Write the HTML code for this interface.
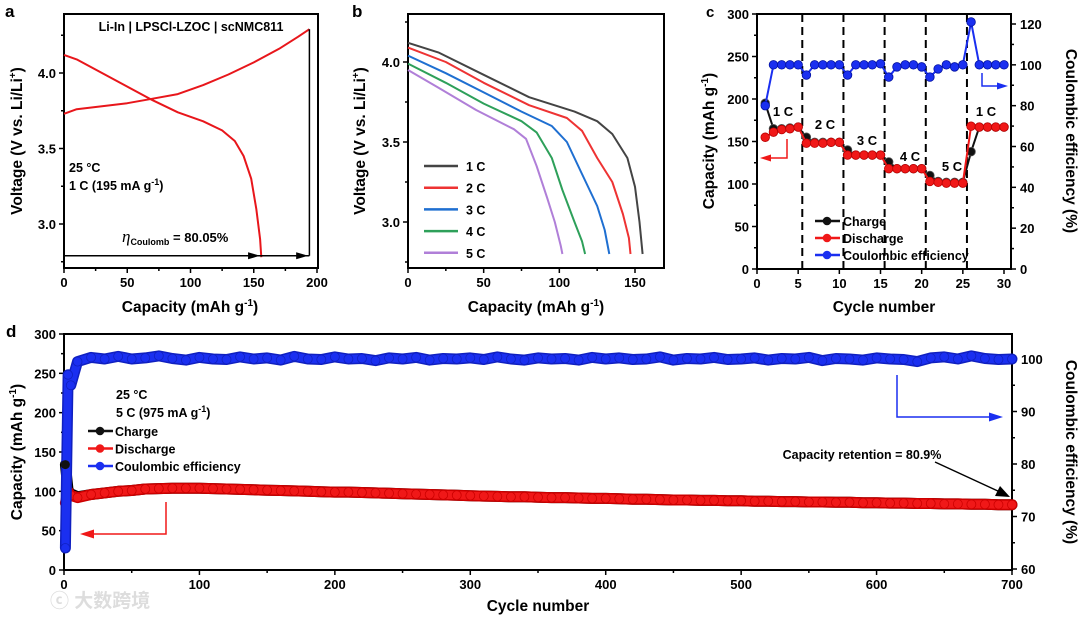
<!DOCTYPE html>
<html><head><meta charset="utf-8"><style>
html,body{margin:0;padding:0;background:#fff}
svg{display:block;font-family:"Liberation Sans",Arial,sans-serif;font-weight:bold}
</style></head><body>
<svg id="fig" width="1080" height="619" viewBox="0 0 1080 619">
<text x="50" y="607" font-size="19" fill="#ddd" font-family="'Liberation Sans','Noto Sans CJK SC',sans-serif">ⓒ 大数跨境</text>
</svg>
<script>
// ---------- panel a data ----------
const aChargeCap=[0,10,30,50,70,90,110,130,150,170,185,194];
const aChargeV=[3.73,3.76,3.78,3.80,3.83,3.86,3.92,3.99,4.07,4.16,4.24,4.29];
const aDisCap=[0,10,30,50,70,90,110,125,135,142,148,152,155,156];
const aDisV=[4.12,4.09,4.0,3.91,3.82,3.74,3.68,3.62,3.55,3.45,3.3,3.1,2.9,2.78];
// ---------- panel b data ----------
const bRates=["1 C","2 C","3 C","4 C","5 C"];
const bColors=["#444","#e33","#1f6fd1","#2ea05a","#b07fd8"];
const bCap1=[0,20,50,80,110,125,135,145,150,153,155];
const bV1=[4.12,4.06,3.92,3.78,3.69,3.63,3.55,3.40,3.22,3.0,2.8];
const bCap2=[0,25,50,80,105,115,125,135,142,146,147];
const bV2=[4.09,4.0,3.87,3.73,3.65,3.57,3.4,3.25,3.05,2.9,2.8];
const bCap3=[0,25,50,75,95,105,115,125,130,133];
const bV3=[4.04,3.93,3.81,3.69,3.60,3.50,3.3,3.1,2.95,2.8];
const bCap4=[0,25,50,75,85,95,102,110,115,117];
const bV4=[3.99,3.87,3.74,3.63,3.56,3.40,3.2,3.0,2.88,2.8];
const bCap5=[0,20,45,70,78,85,92,97,101,102];
const bV5=[3.95,3.84,3.70,3.58,3.52,3.35,3.15,3.0,2.85,2.8];
// ---------- panel c data ----------
const cCycles=[1,2,3,4,5,6,7,8,9,10,11,12,13,14,15,16,17,18,19,20,21,22,23,24,25,26,27,28,29,30];
const cCharge=[195,165,165,166,167,155,149,149,149,149,140,134,134,134,134,126,118,118,118,118,110,103,102,102,102,138,167,167,167,167];
const cDischarge=[155,161,164,165,167,148,148,148,149,149,134,134,134,134,134,118,118,118,118,118,103,102,101,101,101,168,167,167,167,167];
const cCE=[80,100,100,100,100,95,100,100,100,100,95,100,100,100,100.5,94,99,100,100,99,94,98,100,99,100,121,100,100,100,100];
const cRateLabels=["1 C","2 C","3 C","4 C","5 C","1 C"];
// ---------- panel d data (every 10 cycles) ----------
const dCycles=[1,3,5,10,20,30,40,50,60,70,80,90,100,110,120,130,140,150,160,170,180,190,200,210,220,230,240,250,260,270,280,290,300,310,320,330,340,350,360,370,380,390,400,410,420,430,440,450,460,470,480,490,500,510,520,530,540,550,560,570,580,590,600,610,620,630,640,650,660,670,680,690,700];
const dDischarge=[85,100,95,92,96,98,100,101,103,103.5,104,104,104,103.5,103,102.5,102,101.5,101,100.5,100,99.5,99,99,98.5,98,97.5,97,96.5,96,95.5,95,94.5,94,93.5,93,93,92.5,92,92,91.5,91,91,90.5,90,90,89.5,89,89,88.5,88.5,88,88,87.5,87.5,87,87,86.5,86.5,86,86,85.5,85.5,85,85,84.5,84.5,84,84,83.5,83.5,83,83];
const dCharge=[134,101,97,93,96,98,100,101,103,103.5,104,104,104,103.5,103,102.5,102,101.5,101,100.5,100,99.5,99,99,98.5,98,97.5,97,96.5,96,95.5,95,94.5,94,93.5,93,93,92.5,92,92,91.5,91,91,90.5,90,90,89.5,89,89,88.5,88.5,88,88,87.5,87.5,87,87,86.5,86.5,86,86,85.5,85.5,85,85,84.5,84.5,84,84,83.5,83.5,83,83];
const dCE=[64,97,95,99.5,100.3,100,100.5,100,100.2,100.6,100.1,99.8,100.3,100,99.9,100.4,100,100.2,99.8,100.5,100,99.9,100.4,100,100.1,99.7,100.2,100,100.3,99.8,100.1,100,100.2,99.9,100.4,100,99.8,100.2,100,100.1,99.8,100.3,100,100.2,99.9,100,100.4,99.8,100.1,100,100.3,99.9,100,100.2,99.8,100.1,100,100.3,99.7,100.1,100,99.8,100.2,100,99.9,99.5,100.2,100.4,100,100.6,100.1,99.9,100];

const S="http://www.w3.org/2000/svg";
const svg=document.getElementById('fig');
function el(tag,attrs,parent){const e=document.createElementNS(S,tag);for(const k in attrs)e.setAttribute(k,attrs[k]);(parent||svg).appendChild(e);return e;}
function txt(x,y,s,size,anchor,parent,fill){const t=el('text',{x:x,y:y,'font-size':size,'text-anchor':anchor||'start',fill:fill||'#000'},parent);t.innerHTML=s;return t;}
function lin(d0,d1,p0,p1){return v=>p0+(v-d0)*(p1-p0)/(d1-d0);}
function grp(name){const g=el('g',{});return g;}
function frame(g,x0,y0,x1,y1){el('rect',{x:x0,y:y0,width:x1-x0,height:y1-y0,fill:'none',stroke:'#000','stroke-width':2},g);}
function xTicks(g,sx,vals,labels,yb,minor){vals.forEach((v,i)=>{const big=!minor||labels[i]!=='';el('line',{x1:sx(v),x2:sx(v),y1:yb,y2:yb+(big?5:3),stroke:'#000','stroke-width':1.5},g);if(labels[i]!=='')txt(sx(v),yb+19,labels[i],13,'middle',g);});}
function yTicks(g,sy,vals,labels,xa,side){vals.forEach((v,i)=>{const big=labels[i]!=='';const d=big?5:3;el('line',{x1:xa,x2:xa+(side>0?d:-d),y1:sy(v),y2:sy(v),stroke:'#000','stroke-width':1.5},g);if(big)txt(xa+(side>0?9:-8),sy(v)+5,labels[i],13,side>0?'start':'end',g);});}
function path(g,xs,ys,sx,sy,col,w,extra){let d=xs.map((x,i)=>(i?'L':'M')+sx(x).toFixed(1)+' '+sy(ys[i]).toFixed(1)).join(' ');const p=el('path',Object.assign({d:d,fill:'none',stroke:col,'stroke-width':w,'stroke-linejoin':'round'},extra||{}),g);return p;}
function ytitle(g,x,y,html){const t=el('text',{x:0,y:0,'font-size':15.5,'text-anchor':'middle',transform:`translate(${x},${y}) rotate(-90)`},g);t.innerHTML=html;return t;}
function arrowHead(g,x,y,dir,col,len,hw){const p=dir==='r'?`${x},${y} ${x-len},${y-hw} ${x-len},${y+hw}`:`${x},${y} ${x+len},${y-hw} ${x+len},${y+hw}`;el('polygon',{points:p,fill:col},g);}

// ---------------- PANEL A ----------------
(function(){
const g=grp('panel-a');
const sx=lin(0,200,64,317), sy=lin(3.0,4.0,224,73);
txt(5,17,'a',17,'start',g);
frame(g,64,14,318,268);
xTicks(g,sx,[0,25,50,75,100,125,150,175,200],['0','','50','','100','','150','','200'],268,true);
yTicks(g,sy,[2.75,3.0,3.25,3.5,3.75,4.0,4.25],['','3.0','','3.5','','4.0',''],64,-1);
txt(190,312,'Capacity (mAh g<tspan dy="-6" font-size="10">-1</tspan><tspan dy="6">)</tspan>',15.5,'middle',g);
ytitle(g,22,141,'Voltage (V vs. Li/Li<tspan dy="-6" font-size="10">+</tspan><tspan dy="6">)</tspan>');
const ch=path(g,aChargeCap,aChargeV,sx,sy,'#e8161b',2);
const dc=path(g,aDisCap,aDisV,sx,sy,'#e8161b',2);
const yl=sy(2.79);
el('line',{x1:64,x2:sx(194),y1:yl,y2:yl,stroke:'#000','stroke-width':1.5},g);
el('line',{x1:sx(194),x2:sx(194),y1:sy(aChargeV[aChargeV.length-1]),y2:yl,stroke:'#000','stroke-width':1.5},g);
arrowHead(g,sx(155),yl,'r','#000',12,3.5);arrowHead(g,sx(193),yl,'r','#000',12,3.5);
txt(191,31,'Li-In | LPSCl-LZOC | scNMC811',12.5,'middle',g);
txt(69,172,'25 °C',12.5,'start',g);
txt(69,190,'1 C (195 mA g<tspan dy="-5" font-size="9">-1</tspan><tspan dy="5">)</tspan>',12.5,'start',g);
txt(122,242,'<tspan font-style="italic" font-weight="normal" font-family="Liberation Serif" font-size="17">η</tspan><tspan dy="3" font-size="9">Coulomb</tspan><tspan dy="-3"> = 80.05%</tspan>',13,'start',g);
})();

// ---------------- PANEL B ----------------
(function(){
const g=grp('panel-b');
const sx=lin(0,150,408,635), sy=lin(3.0,4.0,222,62);
txt(352,17,'b',17,'start',g);
frame(g,408,14,664,268);
xTicks(g,sx,[0,25,50,75,100,125,150],['0','','50','','100','','150'],268,true);
yTicks(g,sy,[2.75,3.0,3.25,3.5,3.75,4.0,4.25],['','3.0','','3.5','','4.0',''],408,-1);
txt(536,312,'Capacity (mAh g<tspan dy="-6" font-size="10">-1</tspan><tspan dy="6">)</tspan>',15.5,'middle',g);
ytitle(g,365,141,'Voltage (V vs. Li/Li<tspan dy="-6" font-size="10">+</tspan><tspan dy="6">)</tspan>');
const caps=[bCap1,bCap2,bCap3,bCap4,bCap5], vs=[bV1,bV2,bV3,bV4,bV5];
caps.forEach((c,i)=>{const p=path(g,c,vs[i],sx,sy,bColors[i],2);
 const ly=166+i*21.7;const l=el('line',{x1:424,x2:458,y1:ly,y2:ly,stroke:bColors[i],'stroke-width':2.5},g);
 txt(466,ly+5,bRates[i],12.5,'start',g);});
})();

// ---------------- PANEL C ----------------
(function(){
const g=grp('panel-c');
const sx=lin(0,30,757,1004), sy=lin(0,300,269,14), sr=lin(0,120,269,24);
txt(706,17,'c',15,'start',g);
frame(g,757,14,1011,269);
xTicks(g,sx,[0,5,10,15,20,25,30],['0','5','10','15','20','25','30'],269,false);
yTicks(g,sy,[0,25,50,75,100,125,150,175,200,225,250,275,300],['0','','50','','100','','150','','200','','250','','300'],757,-1);
yTicks(g,sr,[0,10,20,30,40,50,60,70,80,90,100,110,120],['0','','20','','40','','60','','80','','100','','120'],1011,1);
txt(884,312,'Cycle number',15.5,'middle',g);
ytitle(g,714,141,'Capacity (mAh g<tspan dy="-6" font-size="10">-1</tspan><tspan dy="6">)</tspan>');
const rt=ytitle(g,1066,141,'Coulombic efficiency (%)');rt.setAttribute('transform','translate(1066,141) rotate(90)');
[5.5,10.5,15.5,20.5,25.5].forEach(v=>el('line',{x1:sx(v),x2:sx(v),y1:14,y2:269,stroke:'#000','stroke-width':2,'stroke-dasharray':'8,5'},g));
function series(ys,scale,col,edge,name){const sg=grp(name);g.appendChild(sg);path(sg,cCycles,ys,sx,scale,col,2);
 cCycles.forEach((c,i)=>{const m=el('circle',{cx:sx(c),cy:scale(ys[i]),r:4.3,fill:col,stroke:edge,'stroke-width':0.8},sg);});}
series(cCharge,sy,'#111','#555','charge-series');
series(cDischarge,sy,'#f01818','#b00','discharge-series');
series(cCE,sr,'#1a2ff0','#0010a0','ce-series');
const lp=[[783,116],[825,129],[867,145],[910,161],[952,171],[986,116]];
cRateLabels.forEach((s,i)=>txt(lp[i][0],lp[i][1],s,13,'middle',g));
el('polyline',{points:'787,139 787,158 770,158',fill:'none',stroke:'#f01818','stroke-width':1.5},g);arrowHead(g,760,158,'l','#f01818',11,3.5);
el('polyline',{points:'982,73 982,86 998,86',fill:'none',stroke:'#1a2ff0','stroke-width':1.5},g);arrowHead(g,1008,86,'r','#1a2ff0',11,3.5);
const leg=[['Charge','#111'],['Discharge','#f01818'],['Coulombic efficiency','#1a2ff0']];
leg.forEach((l,i)=>{const y=221+i*17;el('line',{x1:815,x2:840,y1:y,y2:y,stroke:l[1],'stroke-width':2.5},g);el('circle',{cx:827,cy:y,r:4.3,fill:l[1]},g);txt(843,y+5,l[0],12.5,'start',g);});
})();

// ---------------- PANEL D ----------------
(function(){
const g=grp('panel-d');
const sx=lin(0,700,64,1012), sy=lin(0,300,570,334), sr=lin(60,100,569,359);
txt(6,337,'d',17,'start',g);
frame(g,64,334,1012,570);
xTicks(g,sx,[0,50,100,150,200,250,300,350,400,450,500,550,600,650,700],['0','','100','','200','','300','','400','','500','','600','','700'],570,true);
yTicks(g,sy,[0,25,50,75,100,125,150,175,200,225,250,275,300],['0','','50','','100','','150','','200','','250','','300'],64,-1);
yTicks(g,sr,[60,65,70,75,80,85,90,95,100],['60','','70','','80','','90','','100'],1012,1);
txt(538,611,'Cycle number',15.5,'middle',g);
ytitle(g,22,452,'Capacity (mAh g<tspan dy="-6" font-size="10">-1</tspan><tspan dy="6">)</tspan>');
const rt=ytitle(g,1066,452,'Coulombic efficiency (%)');rt.setAttribute('transform','translate(1066,452) rotate(90)');
function band(ys,scale,col,edge,name){const sg=grp(name);g.appendChild(sg);
 path(sg,dCycles,ys,sx,scale,edge,11,{'stroke-linecap':'round'});path(sg,dCycles,ys,sx,scale,col,8,{'stroke-linecap':'round'});
 dCycles.forEach((c,i)=>{const m=el('circle',{cx:sx(c),cy:scale(ys[i]),r:4.5,fill:col,stroke:edge,'stroke-width':0.8},sg);});}
band(dCharge,sy,'#222','#000','charge-series');
band(dDischarge,sy,'#f01818','#c00','discharge-series');
band(dCE,sr,'#1a2ff0','#1020c0','ce-series');
el('circle',{cx:sx(1),cy:sy(dCharge[0]),r:4.5,fill:'#111'},g);
txt(116,399,'25 °C',12.5,'start',g);
txt(116,417,'5 C (975 mA g<tspan dy="-5" font-size="9">-1</tspan><tspan dy="5">)</tspan>',12.5,'start',g);
const leg=[['Charge','#111'],['Discharge','#f01818'],['Coulombic efficiency','#1a2ff0']];
leg.forEach((l,i)=>{const y=431+i*17.5;el('line',{x1:88,x2:113,y1:y,y2:y,stroke:l[1],'stroke-width':2.5},g);el('circle',{cx:100,cy:y,r:4.3,fill:l[1]},g);txt(115,y+5,l[0],12.5,'start',g);});
el('polyline',{points:'166,502 166,534 92,534',fill:'none',stroke:'#f01818','stroke-width':1.5},g);arrowHead(g,80,534,'l','#f01818',14,4.5);
el('polyline',{points:'897,375 897,417 990,417',fill:'none',stroke:'#1a2ff0','stroke-width':1.5},g);arrowHead(g,1003,417,'r','#1a2ff0',14,4.5);
el('line',{x1:935,y1:462,x2:1000,y2:492,stroke:'#000','stroke-width':1.5},g);
el('polygon',{points:'1010,497 995,496 1000,486',fill:'#000'},g);
txt(862,459,'Capacity retention = 80.9%',12.5,'middle',g);
})();
</script>
</body></html>
